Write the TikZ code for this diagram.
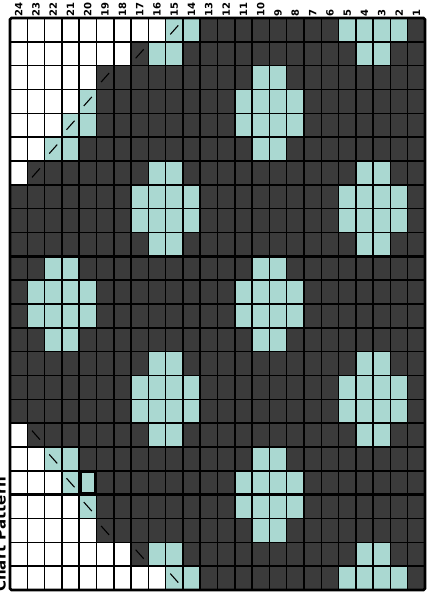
\documentclass[tikz,border=0pt]{standalone}
\usepackage{fontspec}
\setsansfont{DejaVu Sans}
\usetikzlibrary{calc}
\definecolor{chartdark}{RGB}{59,59,59}
\definecolor{chartteal}{RGB}{170,216,209}
\begin{document}
\begin{tikzpicture}[x=1pt,y=-1pt,
  slashln/.style={black,line width=1.1pt},
  kcW/.style={fill=white},
  kcD/.style={fill=chartdark},
  kcT/.style={fill=chartteal},
  kcs/.style={fill=chartdark,path picture={\draw[slashln] ($(path picture bounding box.center)+(-4,4.5)$) -- ($(path picture bounding box.center)+(4,-4.5)$);}},
  kcS/.style={fill=chartteal,path picture={\draw[slashln] ($(path picture bounding box.center)+(-4,4.5)$) -- ($(path picture bounding box.center)+(4,-4.5)$);}},
  kcb/.style={fill=chartdark,path picture={\draw[slashln] ($(path picture bounding box.center)+(-4,-4.5)$) -- ($(path picture bounding box.center)+(4,4.5)$);}},
  kcB/.style={fill=chartteal,path picture={\draw[slashln] ($(path picture bounding box.center)+(-4,-4.5)$) -- ($(path picture bounding box.center)+(4,4.5)$);}},
  gridln/.style={black,line width=1.5pt},
  thickln/.style={black,line width=2.6pt},
  collab/.style={font=\sffamily\bfseries\fontsize{10}{10}\selectfont,inner sep=0pt,rotate=90,anchor=west},
  titlelab/.style={font=\sffamily\bfseries\fontsize{15}{15}\selectfont,inner sep=0pt,rotate=90,anchor=base west}
]
\useasboundingbox (0,0) rectangle (431,593);
\def\cw{17.2917}
\def\rh{23.8333}
\foreach \row [count=\r] in {
 {W,W,W,W,W,W,W,W,W,S,T,D,D,D,D,D,D,D,D,T,T,T,T,D},
 {W,W,W,W,W,W,W,s,T,T,D,D,D,D,D,D,D,D,D,D,T,T,D,D},
 {W,W,W,W,W,s,D,D,D,D,D,D,D,D,T,T,D,D,D,D,D,D,D,D},
 {W,W,W,W,S,D,D,D,D,D,D,D,D,T,T,T,T,D,D,D,D,D,D,D},
 {W,W,W,S,T,D,D,D,D,D,D,D,D,T,T,T,T,D,D,D,D,D,D,D},
 {W,W,S,T,D,D,D,D,D,D,D,D,D,D,T,T,D,D,D,D,D,D,D,D},
 {W,s,D,D,D,D,D,D,T,T,D,D,D,D,D,D,D,D,D,D,T,T,D,D},
 {D,D,D,D,D,D,D,T,T,T,T,D,D,D,D,D,D,D,D,T,T,T,T,D},
 {D,D,D,D,D,D,D,T,T,T,T,D,D,D,D,D,D,D,D,T,T,T,T,D},
 {D,D,D,D,D,D,D,D,T,T,D,D,D,D,D,D,D,D,D,D,T,T,D,D},
 {D,D,T,T,D,D,D,D,D,D,D,D,D,D,T,T,D,D,D,D,D,D,D,D},
 {D,T,T,T,T,D,D,D,D,D,D,D,D,T,T,T,T,D,D,D,D,D,D,D},
 {D,T,T,T,T,D,D,D,D,D,D,D,D,T,T,T,T,D,D,D,D,D,D,D},
 {D,D,T,T,D,D,D,D,D,D,D,D,D,D,T,T,D,D,D,D,D,D,D,D},
 {D,D,D,D,D,D,D,D,T,T,D,D,D,D,D,D,D,D,D,D,T,T,D,D},
 {D,D,D,D,D,D,D,T,T,T,T,D,D,D,D,D,D,D,D,T,T,T,T,D},
 {D,D,D,D,D,D,D,T,T,T,T,D,D,D,D,D,D,D,D,T,T,T,T,D},
 {W,b,D,D,D,D,D,D,T,T,D,D,D,D,D,D,D,D,D,D,T,T,D,D},
 {W,W,B,T,D,D,D,D,D,D,D,D,D,D,T,T,D,D,D,D,D,D,D,D},
 {W,W,W,B,T,D,D,D,D,D,D,D,D,T,T,T,T,D,D,D,D,D,D,D},
 {W,W,W,W,B,D,D,D,D,D,D,D,D,T,T,T,T,D,D,D,D,D,D,D},
 {W,W,W,W,W,b,D,D,D,D,D,D,D,D,T,T,D,D,D,D,D,D,D,D},
 {W,W,W,W,W,W,W,b,T,T,D,D,D,D,D,D,D,D,D,D,T,T,D,D},
 {W,W,W,W,W,W,W,W,W,B,T,D,D,D,D,D,D,D,D,T,T,T,T,D}}{
  \foreach \k [count=\j] in \row {
    \path[kc\k] ({10+(\j-1)*\cw},{18+(\r-1)*\rh}) rectangle ++(\cw,\rh);
  }
}
% grid
\foreach \j in {1,...,23} \draw[gridln] ({10+\j*\cw},18) -- ({10+\j*\cw},590);
\foreach \r in {1,...,23} \draw[gridln] (10,{18+\r*\rh}) -- (425,{18+\r*\rh});
\draw[thickln] ({10+4*\cw},18) -- ({10+4*\cw},590);
\draw[thickln] (10,{18+10*\rh}) -- (425,{18+10*\rh});
\draw[thickln] (10,{18+20*\rh}) -- (425,{18+20*\rh});
\draw[black,line width=2.8pt,rounded corners=1.5pt] (10,18) rectangle (425,590);
% highlighted cell
\draw[black,line width=3pt] ({10+4*\cw+1},{18+19*\rh+1}) rectangle ({10+5*\cw-1},{18+20*\rh-1});
% column numbers
\foreach \j in {1,...,24} {
  \pgfmathtruncatemacro{\n}{25-\j}
  \node[collab] (col\n) at ({10+(\j-0.5)*\cw},16.5) {\n};
}
% title, cut off by the left edge as in the reference
\node[titlelab] (title) at (5.5,592) {Chart Pattern};
\end{tikzpicture}
\end{document}
